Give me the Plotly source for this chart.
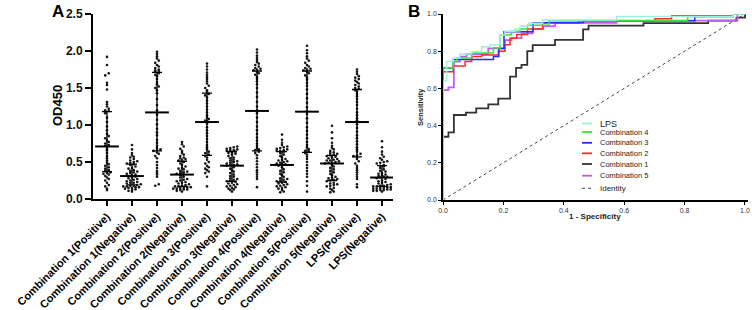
import plotly.graph_objects as go

W, H = 752, 310

# ---------------- Panel A data ----------------
categories = [
    "Combination 1(Positive)", "Combination 1(Negative)",
    "Combination 2(Positive)", "Combination 2(Negative)",
    "Combination 3(Positive)", "Combination 3(Negative)",
    "Combination 4(Positive)", "Combination 4(Negative)",
    "Combination 5(Positive)", "Combination 5(Negative)",
    "LPS(Positive)", "LPS(Negative)",
]

comb1_pos = [1.92, 1.81, 1.70, 1.67, 1.57, 1.54, 1.48, 1.31, 1.28, 1.25, 1.22, 1.20, 1.19,
             1.16, 1.10, 1.04, 0.98, 0.93, 0.88, 0.85, 0.82, 0.79, 0.77, 0.75, 0.73, 0.72,
             0.69, 0.66, 0.62, 0.58, 0.55, 0.52, 0.49, 0.47, 0.45, 0.43, 0.41, 0.39, 0.38,
             0.36, 0.35, 0.34, 0.33, 0.31, 0.29, 0.27, 0.25, 0.22, 0.19, 0.17, 0.14, 0.12]
comb1_neg = [0.73, 0.67, 0.62, 0.59, 0.57, 0.56, 0.54, 0.52, 0.51, 0.50, 0.49, 0.48, 0.47,
             0.46, 0.44, 0.42, 0.41, 0.39, 0.38, 0.37, 0.36, 0.35, 0.34, 0.33, 0.32, 0.31,
             0.30, 0.29, 0.28, 0.27, 0.26, 0.25, 0.24, 0.23, 0.22, 0.22, 0.21, 0.20, 0.19,
             0.18, 0.18, 0.17, 0.17, 0.16, 0.16, 0.15, 0.15, 0.14, 0.13, 0.12, 0.11, 0.10]
comb2_pos = [1.99, 1.96, 1.93, 1.90, 1.87, 1.84, 1.81, 1.79, 1.77, 1.75, 1.74, 1.73, 1.72,
             1.70, 1.68, 1.66, 1.62, 1.58, 1.55, 1.52, 1.50, 1.47, 1.43, 1.35, 1.27, 1.20,
             1.14, 1.07, 1.01, 0.95, 0.90, 0.86, 0.80, 0.76, 0.72, 0.69, 0.67, 0.66, 0.65,
             0.63, 0.61, 0.58, 0.55, 0.50, 0.46, 0.42, 0.38, 0.35, 0.33, 0.30, 0.20, 0.18]
comb2_neg = [0.77, 0.74, 0.71, 0.68, 0.65, 0.62, 0.60, 0.58, 0.56, 0.55, 0.54, 0.53, 0.52,
             0.50, 0.48, 0.46, 0.44, 0.42, 0.41, 0.40, 0.38, 0.37, 0.36, 0.35, 0.34, 0.33,
             0.32, 0.30, 0.29, 0.27, 0.26, 0.25, 0.24, 0.23, 0.22, 0.21, 0.20, 0.19, 0.18,
             0.17, 0.17, 0.16, 0.16, 0.15, 0.15, 0.14, 0.14, 0.13, 0.13, 0.12, 0.11, 0.10]
comb3_pos = [1.83, 1.79, 1.75, 1.71, 1.68, 1.65, 1.62, 1.59, 1.56, 1.53, 1.50, 1.47, 1.45,
             1.42, 1.40, 1.37, 1.33, 1.29, 1.25, 1.21, 1.17, 1.13, 1.10, 1.08, 1.06, 1.05,
             1.02, 0.97, 0.93, 0.89, 0.85, 0.81, 0.77, 0.73, 0.70, 0.67, 0.64, 0.62, 0.60,
             0.58, 0.56, 0.53, 0.50, 0.48, 0.45, 0.43, 0.41, 0.39, 0.37, 0.35, 0.30, 0.17]
comb3_neg = [0.71, 0.70, 0.69, 0.68, 0.67, 0.66, 0.66, 0.65, 0.64, 0.63, 0.62, 0.61, 0.60,
             0.58, 0.56, 0.55, 0.53, 0.52, 0.51, 0.50, 0.49, 0.48, 0.47, 0.46, 0.46, 0.45,
             0.43, 0.41, 0.39, 0.37, 0.35, 0.33, 0.31, 0.30, 0.28, 0.27, 0.26, 0.25, 0.24,
             0.23, 0.22, 0.21, 0.20, 0.19, 0.18, 0.17, 0.16, 0.15, 0.14, 0.13, 0.12, 0.10]
comb4_pos = [2.02, 1.98, 1.94, 1.91, 1.88, 1.85, 1.83, 1.81, 1.79, 1.77, 1.76, 1.75, 1.74,
             1.72, 1.70, 1.68, 1.65, 1.62, 1.59, 1.55, 1.50, 1.44, 1.38, 1.31, 1.25, 1.20,
             1.16, 1.10, 1.04, 0.98, 0.93, 0.88, 0.83, 0.79, 0.75, 0.72, 0.69, 0.67, 0.66,
             0.64, 0.62, 0.59, 0.55, 0.51, 0.47, 0.43, 0.39, 0.36, 0.33, 0.30, 0.27, 0.16]
comb4_neg = [0.87, 0.80, 0.76, 0.73, 0.71, 0.70, 0.69, 0.68, 0.67, 0.66, 0.65, 0.65, 0.64,
             0.62, 0.60, 0.58, 0.56, 0.54, 0.53, 0.52, 0.51, 0.50, 0.49, 0.48, 0.47, 0.47,
             0.45, 0.43, 0.40, 0.38, 0.36, 0.34, 0.32, 0.30, 0.28, 0.27, 0.26, 0.25, 0.24,
             0.23, 0.22, 0.21, 0.20, 0.19, 0.18, 0.17, 0.16, 0.15, 0.14, 0.12, 0.10, 0.09]
comb5_pos = [2.07, 2.01, 1.97, 1.93, 1.90, 1.87, 1.84, 1.81, 1.79, 1.77, 1.76, 1.75, 1.74,
             1.72, 1.70, 1.67, 1.64, 1.61, 1.57, 1.53, 1.48, 1.42, 1.36, 1.30, 1.24, 1.19,
             1.15, 1.09, 1.03, 0.97, 0.92, 0.87, 0.82, 0.77, 0.73, 0.70, 0.67, 0.65, 0.64,
             0.62, 0.60, 0.57, 0.54, 0.50, 0.46, 0.42, 0.38, 0.34, 0.30, 0.24, 0.18, 0.10]
comb5_neg = [0.99, 0.90, 0.82, 0.76, 0.72, 0.69, 0.67, 0.65, 0.63, 0.62, 0.61, 0.60, 0.59,
             0.58, 0.57, 0.56, 0.55, 0.54, 0.53, 0.52, 0.52, 0.51, 0.50, 0.49, 0.49, 0.48,
             0.46, 0.44, 0.42, 0.40, 0.38, 0.36, 0.34, 0.32, 0.30, 0.29, 0.28, 0.27, 0.26,
             0.25, 0.24, 0.22, 0.21, 0.20, 0.19, 0.18, 0.17, 0.15, 0.14, 0.12, 0.10, 0.09]
lps_pos = [1.75, 1.72, 1.69, 1.66, 1.64, 1.62, 1.60, 1.58, 1.56, 1.54, 1.52, 1.50, 1.49,
           1.47, 1.45, 1.42, 1.39, 1.35, 1.31, 1.27, 1.22, 1.17, 1.13, 1.09, 1.06, 1.04,
           1.01, 0.96, 0.91, 0.86, 0.82, 0.78, 0.74, 0.70, 0.67, 0.64, 0.61, 0.59, 0.58,
           0.56, 0.54, 0.51, 0.48, 0.45, 0.42, 0.39, 0.36, 0.33, 0.30, 0.27, 0.20, 0.16]
lps_neg = [0.78, 0.70, 0.64, 0.60, 0.57, 0.55, 0.53, 0.51, 0.50, 0.49, 0.48, 0.46, 0.45,
           0.44, 0.42, 0.40, 0.38, 0.37, 0.35, 0.34, 0.33, 0.32, 0.31, 0.30, 0.30, 0.29,
           0.28, 0.27, 0.25, 0.24, 0.23, 0.22, 0.21, 0.20, 0.19, 0.18, 0.18, 0.17, 0.17,
           0.16, 0.16, 0.15, 0.15, 0.14, 0.14, 0.13, 0.13, 0.12, 0.12, 0.11, 0.11, 0.10]

group_values = [comb1_pos, comb1_neg, comb2_pos, comb2_neg, comb3_pos, comb3_neg,
                comb4_pos, comb4_neg, comb5_pos, comb5_neg, lps_pos, lps_neg]

medians = [0.71, 0.31, 1.17, 0.33, 1.04, 0.45, 1.19, 0.46, 1.18, 0.48, 1.04, 0.29]
q_upper = [1.18, 0.47, 1.71, 0.51, 1.43, 0.64, 1.73, 0.64, 1.73, 0.59, 1.48, 0.45]
q_lower = [0.37, 0.19, 0.65, 0.17, 0.59, 0.24, 0.65, 0.23, 0.63, 0.25, 0.57, 0.17]

y_ticks_a = [0.0, 0.5, 1.0, 1.5, 2.0, 2.5]

# ---------------- Panel B data (ROC step vertices) ----------------
roc_lps_fpr = [0, 0, 0.012, 0.034, 0.056, 0.095, 0.128, 0.156, 0.189, 0.205, 0.238, 0.255, 0.283, 0.33, 0.575, 0.96, 1.0]
roc_lps_tpr = [0, 0.64, 0.745, 0.762, 0.785, 0.797, 0.824, 0.835, 0.889, 0.907, 0.92, 0.935, 0.95, 0.968, 0.986, 1.0, 1.0]

roc_c4_fpr = [0, 0, 0.034, 0.045, 0.095, 0.167, 0.189, 0.227, 0.255, 0.28, 0.351, 0.81, 0.96, 1.0]
roc_c4_tpr = [0, 0.71, 0.745, 0.763, 0.79, 0.817, 0.889, 0.907, 0.92, 0.94, 0.964, 0.986, 1.0, 1.0]

roc_c3_fpr = [0, 0, 0.034, 0.167, 0.185, 0.202, 0.298, 0.465, 0.834, 0.96, 1.0]
roc_c3_tpr = [0, 0.71, 0.756, 0.771, 0.815, 0.905, 0.953, 0.964, 0.986, 1.0, 1.0]

roc_c2_fpr = [0, 0, 0.034, 0.073, 0.095, 0.128, 0.183, 0.205, 0.222, 0.244, 0.28, 0.33, 0.45, 0.702, 0.757, 0.96, 1.0]
roc_c2_tpr = [0, 0.69, 0.72, 0.745, 0.772, 0.78, 0.80, 0.835, 0.87, 0.89, 0.92, 0.953, 0.964, 0.975, 0.99, 1.0, 1.0]

roc_c1_fpr = [0, 0, 0.018, 0.036, 0.076, 0.11, 0.15, 0.183, 0.222, 0.242, 0.26, 0.279, 0.297, 0.371, 0.464, 0.482, 0.664, 0.878, 0.972, 1.0]
roc_c1_tpr = [0, 0.34, 0.364, 0.457, 0.47, 0.493, 0.514, 0.545, 0.663, 0.71, 0.726, 0.80, 0.833, 0.861, 0.917, 0.938, 0.951, 0.964, 0.98, 1.0]

roc_c5_fpr = [0, 0, 0.018, 0.036, 0.056, 0.078, 0.15, 0.205, 0.227, 0.26, 0.297, 0.332, 0.371, 0.575, 0.975, 1.0]
roc_c5_tpr = [0, 0.591, 0.606, 0.744, 0.771, 0.785, 0.815, 0.86, 0.87, 0.896, 0.92, 0.935, 0.953, 0.964, 1.0, 1.0]

roc_names = ["Combination 1", "Combination 5", "Combination 2", "Combination 3", "Combination 4", "LPS"]
roc_fprs = [roc_c1_fpr, roc_c5_fpr, roc_c2_fpr, roc_c3_fpr, roc_c4_fpr, roc_lps_fpr]
roc_tprs = [roc_c1_tpr, roc_c5_tpr, roc_c2_tpr, roc_c3_tpr, roc_c4_tpr, roc_lps_tpr]
roc_colors = {"LPS": "#9fefdc", "Combination 4": "#33e633", "Combination 3": "#2a2aff",
              "Combination 2": "#ff2a2a", "Combination 1": "#333333", "Combination 5": "#c45cf0"}
roc_widths = {"LPS": 1.5, "Combination 4": 1.5, "Combination 3": 1.5,
              "Combination 2": 1.5, "Combination 1": 1.8, "Combination 5": 1.8}
legend_order = ["LPS", "Combination 4", "Combination 3", "Combination 2", "Combination 1", "Combination 5", "Identity"]
b_ticks = [0.0, 0.2, 0.4, 0.6, 0.8, 1.0]


def fx(px):
    return px / W


def fy(py):
    return 1 - py / H


def swarm(values, center, bin_h=0.034, dx=0.14):
    """Deterministic beeswarm layout: spread points sharing a y-bin horizontally."""
    vals = sorted(values)
    bins = {}
    for v in vals:
        bins.setdefault(int(v // bin_h), []).append(v)
    xs, ys = [], []
    for _, vs in sorted(bins.items()):
        n = len(vs)
        for k, v in enumerate(vs):
            xs.append(center + (k - (n - 1) / 2) * dx)
            ys.append(v)
    return xs, ys


fig = go.Figure()

FONT = "Liberation Sans, Arial, sans-serif"

# Panel A dots
for i, vals in enumerate(group_values):
    xs, ys = swarm(vals, i)
    fig.add_trace(go.Scatter(
        x=xs, y=ys, mode="markers", xaxis="x", yaxis="y",
        marker=dict(size=2.6, color="#151515", line=dict(width=0)),
        showlegend=False, hoverinfo="skip"))

# Panel A median + IQR
fig.add_trace(go.Scatter(
    x=list(range(len(categories))), y=medians, mode="markers", xaxis="x", yaxis="y",
    marker=dict(symbol="line-ew-open", size=17, color="black", line=dict(width=2, color="black")),
    error_y=dict(type="data", symmetric=False,
                 array=[u - m for u, m in zip(q_upper, medians)],
                 arrayminus=[m - l for m, l in zip(medians, q_lower)],
                 color="black", thickness=1.3, width=5),
    showlegend=False, hoverinfo="skip"))

# Panel B identity
fig.add_trace(go.Scatter(
    x=[0, 1], y=[0, 1], mode="lines", xaxis="x2", yaxis="y2",
    line=dict(color="#444444", width=1, dash="dot"), showlegend=False, hoverinfo="skip"))

# Panel B ROC curves
for name, fpr, tpr in zip(roc_names, roc_fprs, roc_tprs):
    fig.add_trace(go.Scatter(
        x=fpr, y=tpr, mode="lines", xaxis="x2", yaxis="y2", name=name,
        line=dict(color=roc_colors[name], width=roc_widths[name], shape="hv"),
        showlegend=False, hoverinfo="skip"))

# Manual legend for panel B
shapes = []
annotations = []
legend_rows = [123.5, 132.0, 142.8, 153.3, 164.0, 175.7, 188.3]
legend_sizes = [9, 7.5, 7.5, 7.5, 7.5, 7.5, 8]
for name, py, fs in zip(legend_order, legend_rows, legend_sizes):
    if name == "Identity":
        col, wdt, dash = "#444444", 1, "dot"
    else:
        col, wdt, dash = roc_colors[name], 1.8, "solid"
    shapes.append(dict(type="line", xref="paper", yref="paper",
                       x0=fx(582), x1=fx(592), y0=fy(py), y1=fy(py),
                       line=dict(color=col, width=wdt, dash=dash)))
    annotations.append(dict(text=name, xref="paper", yref="paper", x=fx(598), y=fy(py),
                            xanchor="left", yanchor="middle", showarrow=False,
                            font=dict(family=FONT, size=fs, color="#222222")))

annotations += [
    dict(text="<b>A</b>", xref="paper", yref="paper", x=fx(58), y=fy(11), showarrow=False,
         xanchor="center", yanchor="middle", font=dict(family=FONT, size=17, color="black")),
    dict(text="<b>B</b>", xref="paper", yref="paper", x=fx(414), y=fy(11), showarrow=False,
         xanchor="center", yanchor="middle", font=dict(family=FONT, size=17, color="black")),
    dict(text="<b>OD450</b>", xref="paper", yref="paper", x=fx(57), y=fy(106), showarrow=False,
         textangle=-90, xanchor="center", yanchor="middle",
         font=dict(family=FONT, size=13, color="black")),
    dict(text="<b>Sensitivity</b>", xref="paper", yref="paper", x=fx(420), y=fy(107), showarrow=False,
         textangle=-90, xanchor="center", yanchor="middle",
         font=dict(family=FONT, size=7.5, color="#222222")),
    dict(text="<b>1 - Specificity</b>", xref="paper", yref="paper", x=fx(595), y=fy(216), showarrow=False,
         xanchor="center", yanchor="middle", font=dict(family=FONT, size=8, color="#222222")),
]

fig.update_layout(
    width=W, height=H,
    autosize=False,
    margin=dict(l=0, r=0, t=0, b=0, pad=0, autoexpand=False),
    paper_bgcolor="white", plot_bgcolor="white",
    showlegend=False,
    shapes=shapes,
    annotations=annotations,
    xaxis=dict(domain=[fx(93), fx(393)], range=[-0.56, 11.44], anchor="y", automargin=False,
               tickmode="array", tickvals=list(range(len(categories))), ticktext=categories,
               tickangle=-45, ticks="outside", ticklen=5, tickwidth=1.5, tickcolor="black",
               showline=True, linewidth=2, linecolor="black", showgrid=False, zeroline=False,
               tickfont=dict(family=FONT, size=11, color="black", weight="bold")),
    yaxis=dict(domain=[fy(199), fy(14)], range=[0, 2.5], anchor="x", automargin=False,
               tickmode="array", tickvals=y_ticks_a, ticktext=[f"{v:.1f}" for v in y_ticks_a],
               ticks="outside", ticklen=6, tickwidth=1.5, tickcolor="black",
               showline=True, linewidth=2, linecolor="black", showgrid=False, zeroline=False,
               tickfont=dict(family=FONT, size=12, color="#111111", weight="bold")),
    xaxis2=dict(domain=[fx(443), fx(748)], range=[0, 1.01], anchor="y2", automargin=False,
                tickmode="array", tickvals=b_ticks, ticktext=[f"{v:.1f}" for v in b_ticks],
                ticks="outside", ticklen=3, tickwidth=1, tickcolor="black",
                showline=True, linewidth=1.5, linecolor="black", showgrid=False, zeroline=False,
                layer="below traces",
                tickfont=dict(family=FONT, size=7, color="#333333")),
    yaxis2=dict(domain=[fy(200), fy(14)], range=[0, 1], anchor="x2", automargin=False,
                tickmode="array", tickvals=b_ticks, ticktext=[f"{v:.1f}" for v in b_ticks],
                ticks="outside", ticklen=3, tickwidth=1, tickcolor="black",
                showline=True, linewidth=1.5, linecolor="black", showgrid=False, zeroline=False,
                layer="below traces",
                tickfont=dict(family=FONT, size=7, color="#333333")),
)

fig.write_html("out.html", config={"responsive": False, "displayModeBar": False},
               post_script="document.body.style.margin='0';document.body.style.padding='0';")
